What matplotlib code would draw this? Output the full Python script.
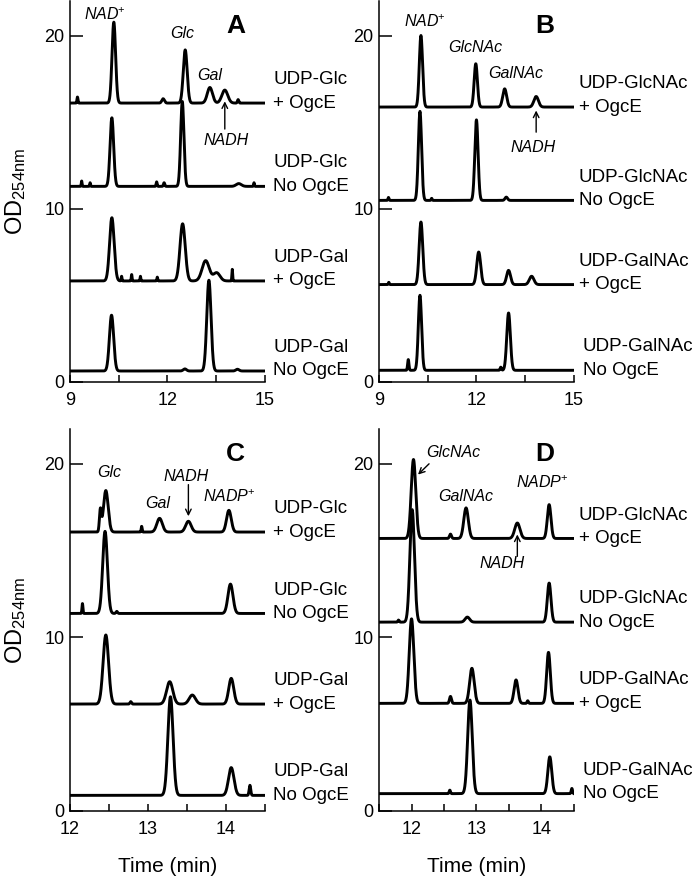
import numpy as np
import matplotlib.pyplot as plt

plt.rcParams['font.family'] = ['Liberation Sans', 'DejaVu Sans']
plt.rcParams['mathtext.fontset'] = 'custom'
plt.rcParams['mathtext.rm'] = 'Liberation Sans'
plt.rcParams['mathtext.it'] = 'Liberation Sans:italic'

# each trace: baseline level, then peaks as (retention time, apex OD, width)
# panel A - UDP-Glc / UDP-Gal with NAD+
a_base = [16.1, 11.29, 5.83, 0.63]
a_peaks = [
    [(10.35, 20.77, .055), (12.55, 19.17, .06), (13.31, 17.0, .08), (13.77, 16.85, .09),
     (9.23, 16.45, .015), (11.87, 16.35, .04), (14.18, 16.3, .02)],
    [(10.29, 15.25, .055), (12.46, 16.19, .05), (9.36, 11.6, .012), (9.62, 11.5, .012),
     (11.67, 11.55, .015), (11.9, 11.5, .02), (14.2, 11.45, .08), (14.67, 11.5, .012)],
    [(10.29, 9.48, .07), (12.47, 9.13, .08), (13.18, 7.0, .11), (13.52, 6.3, .1),
     (10.59, 6.1, .012), (10.9, 6.2, .012), (11.17, 6.1, .012), (11.69, 6.05, .012), (14.0, 6.5, .012)],
    [(10.28, 3.85, .065), (13.28, 5.87, .065), (12.54, 0.75, .05), (14.16, 0.73, .05)],
]
a_names = [('UDP-Glc', '+ OgcE'), ('UDP-Glc', 'No OgcE'), ('UDP-Gal', '+ OgcE'), ('UDP-Gal', 'No OgcE')]

# panel B - UDP-GlcNAc / UDP-GalNAc with NAD+
b_base = [15.87, 10.48, 5.62, 0.67]
b_peaks = [
    [(10.29, 20.0, .05), (11.98, 18.37, .05), (12.87, 16.92, .06), (13.84, 16.48, .07)],
    [(10.26, 15.62, .05), (12.0, 15.13, .05), (12.92, 10.67, .04), (9.29, 10.65, .015), (10.62, 10.6, .015)],
    [(10.29, 9.23, .055), (12.07, 7.5, .06), (12.99, 6.44, .06), (13.7, 6.1, .07), (9.3, 5.75, .015)],
    [(9.9, 1.29, .02), (10.26, 5.0, .05), (12.99, 3.98, .055), (12.75, 0.85, .02)],
]
b_names = [('UDP-GlcNAc', '+ OgcE'), ('UDP-GlcNAc', 'No OgcE'), ('UDP-GalNAc', '+ OgcE'), ('UDP-GalNAc', 'No OgcE')]

# panel C - UDP-Glc / UDP-Gal with NADP+
c_base = [16.07, 11.38, 6.16, 0.9]
c_peaks = [
    [(12.46, 18.46, .03), (12.39, 17.3, .012), (13.15, 16.86, .035), (13.52, 16.69, .035),
     (14.04, 17.32, .03), (12.92, 16.4, .006)],
    [(12.45, 16.11, .03), (14.06, 13.07, .032), (12.16, 11.95, .006), (12.6, 11.5, .01)],
    [(12.46, 10.14, .035), (13.28, 7.45, .04), (13.57, 6.68, .04), (14.07, 7.64, .032), (12.78, 6.3, .01)],
    [(13.29, 6.58, .033), (14.07, 2.5, .035), (14.31, 1.48, .01)],
]
c_names = a_names

# panel D - UDP-GlcNAc / UDP-GalNAc with NADP+
d_base = [15.7, 10.88, 6.2, 1.0]
d_peaks = [
    [(12.03, 20.25, .035), (12.84, 17.46, .035), (12.6, 15.95, .015), (13.63, 16.59, .04), (14.12, 17.65, .028)],
    [(12.01, 17.36, .035), (12.86, 11.17, .035), (14.12, 13.13, .028), (11.8, 11.0, .01)],
    [(12.0, 11.07, .035), (12.93, 8.22, .035), (12.6, 6.6, .015), (13.61, 7.55, .03),
     (13.79, 6.35, .01), (14.11, 9.14, .028)],
    [(12.9, 6.39, .035), (14.13, 3.12, .03), (12.59, 1.2, .01), (14.47, 1.3, .01)],
]
d_names = b_names

fig = plt.figure(figsize=(6.93, 8.82), dpi=100)

panels = [
    ('A', [0.101, 0.567, 0.281, 0.432], (9, 15), [9, 12, 15], [10.5, 13.5], a_base, a_peaks, a_names),
    ('B', [0.547, 0.567, 0.281, 0.432], (9, 15), [9, 12, 15], [10.5, 13.5], b_base, b_peaks, b_names),
    ('C', [0.101, 0.0805, 0.281, 0.433], (12, 14.5), [12, 13, 14], [12.5, 13.5, 14.5], c_base, c_peaks, c_names),
    ('D', [0.547, 0.0805, 0.281, 0.433], (11.5, 14.5), [12, 13, 14], [11.5, 12.5, 13.5, 14.5], d_base, d_peaks, d_names),
]

axes = {}
for letter, rect, xlim, major, minor, base, peaks, names in panels:
    ax = fig.add_axes(rect)
    axes[letter] = ax
    x = np.linspace(xlim[0], xlim[1], 2000)
    for b, pk in zip(base, peaks):
        y = np.full_like(x, b)
        for c, top, w in pk:
            y += (top - b) * np.exp(-0.5 * ((x - c) / w) ** 2)
        ax.plot(x, y, color='black', lw=2.1, solid_joinstyle='round')
    ax.set_xlim(xlim)
    ax.set_ylim(0, 22)
    ax.set_xticks(major)
    ax.set_xticks(minor, minor=True)
    ax.set_yticks([0, 10, 20])
    ax.spines['top'].set_visible(False)
    ax.spines['right'].set_visible(False)
    for s in ['left', 'bottom']:
        ax.spines[s].set_linewidth(1.1)
    ax.tick_params(axis='x', which='both', direction='in', length=5, width=1.1, labelsize=13, pad=7)
    ax.tick_params(axis='y', direction='in', length=9, width=1.1, labelsize=13, pad=4)
    if letter in 'AC':
        ax.set_ylabel('OD$_{\\mathrm{254nm}}$', fontsize=17)
        ax.yaxis.set_label_coords(-0.215, 0.5)
    ax.text(0.85, 0.935, letter, transform=ax.transAxes, fontsize=19, fontweight='bold',
            ha='center', va='center')

    # sample names on the right of each trace
    span = xlim[1] - xlim[0]
    for i, (b, (n1, n2)) in enumerate(zip(base, names)):
        dx = 0.045 if letter in 'AC' else 0.025
        if letter in 'BD' and i == 3:
            dx = 0.045
        ax.text(xlim[1] + dx * span, b + 1.35, n1, fontsize=13.5, ha='left', va='center', clip_on=False)
        ax.text(xlim[1] + dx * span, b, n2, fontsize=13.5, ha='left', va='center', clip_on=False)

for letter in 'CD':
    axes[letter].set_xlabel('Time (min)', fontsize=15, labelpad=14)

akw = dict(fontsize=11.5, style='italic', ha='center', va='center')
arr = dict(arrowstyle='->', color='black', lw=1.0, shrinkA=0, shrinkB=0)

ax = axes['A']
ax.text(10.08, 21.2, 'NAD$^{+}$', **akw)
ax.text(12.47, 20.1, 'Glc', **akw)
ax.text(13.29, 17.7, 'Gal', **akw)
ax.text(13.82, 13.94, 'NADH', **akw)
ax.annotate('', xy=(13.77, 16.2), xytext=(13.77, 14.6), arrowprops=arr)

ax = axes['B']
ax.text(10.41, 20.77, 'NAD$^{+}$', **akw)
ax.text(11.95, 19.33, 'GlcNAc', **akw)
ax.text(13.21, 17.79, 'GalNAc', **akw)
ax.text(13.74, 13.56, 'NADH', **akw)
ax.annotate('', xy=(13.84, 15.67), xytext=(13.84, 14.42), arrowprops=arr)

ax = axes['C']
ax.text(12.5, 19.48, 'Glc', **akw)
ax.text(13.13, 17.69, 'Gal', **akw)
ax.text(13.49, 19.29, 'NADH', **akw)
ax.annotate('', xy=(13.52, 16.98), xytext=(13.52, 18.8), arrowprops=arr)
ax.text(14.04, 18.13, 'NADP$^{+}$', **akw)

ax = axes['D']
ax.text(12.64, 20.64, 'GlcNAc', **akw)
ax.annotate('', xy=(12.1, 19.38), xytext=(12.27, 20.0), arrowprops=arr)
ax.text(12.84, 18.13, 'GalNAc', **akw)
ax.text(14.02, 18.9, 'NADP$^{+}$', **akw)
ax.text(13.4, 14.25, 'NADH', **akw)
ax.annotate('', xy=(13.63, 15.93), xytext=(13.63, 14.67), arrowprops=arr)

plt.savefig('out.png', dpi=100)
